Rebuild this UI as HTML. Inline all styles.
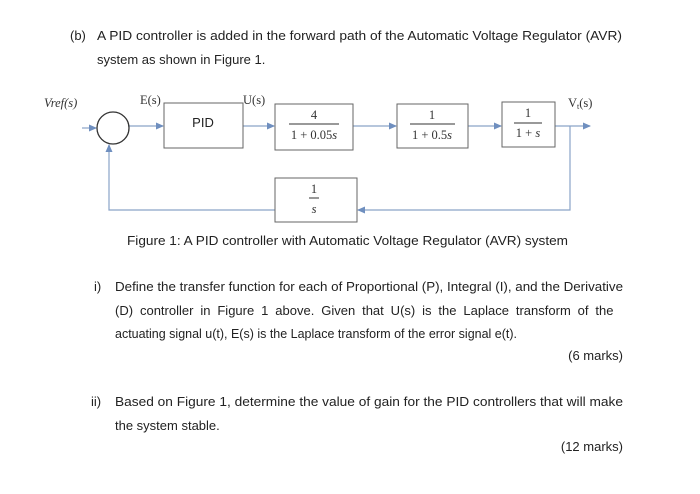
<!DOCTYPE html>
<html><head><meta charset="utf-8"><style>
html,body{margin:0;padding:0;background:#fff;}
svg{display:block;}
.t{font-family:"Liberation Sans",Arial,sans-serif;font-size:13px;fill:#222;}
.m{font-family:"Liberation Serif",serif;font-size:12.5px;fill:#333;}
.i{font-style:italic;}
</style></head><body>
<svg width="700" height="494" viewBox="0 0 700 494" xmlns="http://www.w3.org/2000/svg">
<defs><marker id="a" markerWidth="8" markerHeight="8" refX="7" refY="4" orient="auto" markerUnits="userSpaceOnUse"><path d="M0,0.5 L8,4 L0,7.5 z" fill="#6f8fbf"/></marker></defs>
<rect width="700" height="494" fill="#fff"/>
<text class="t" x="70" y="40">(b)</text>
<text class="t" x="97" y="40" textLength="525" lengthAdjust="spacingAndGlyphs">A PID controller is added in the forward path of the Automatic Voltage Regulator (AVR)</text>
<text class="t" x="97" y="64">system as shown in Figure 1.</text>

<g stroke="#8aa3c8" stroke-width="1.2" fill="none">
<line x1="82" y1="128" x2="96" y2="128" marker-end="url(#a)"/>
<line x1="129" y1="126" x2="163" y2="126" marker-end="url(#a)"/>
<line x1="243" y1="126" x2="274" y2="126" marker-end="url(#a)"/>
<line x1="353" y1="126" x2="396" y2="126" marker-end="url(#a)"/>
<line x1="468" y1="126" x2="501" y2="126" marker-end="url(#a)"/>
<line x1="555" y1="126" x2="590" y2="126" marker-end="url(#a)"/>
<polyline points="570,126 570,210 358,210" marker-end="url(#a)"/>
<polyline points="275,210 109,210 109,145" marker-end="url(#a)"/>
</g>
<circle cx="113" cy="128" r="16" fill="none" stroke="#333" stroke-width="1.3"/>
<g fill="#fff" stroke="#666" stroke-width="1">
<rect x="164" y="103" width="79" height="45"/>
<rect x="275" y="104" width="78" height="46"/>
<rect x="397" y="104" width="71" height="44"/>
<rect x="502" y="102" width="53" height="45"/>
<rect x="275" y="178" width="82" height="44"/>
</g>
<text class="t" x="203" y="127" text-anchor="middle">PID</text>
<text class="m" x="314" y="119" text-anchor="middle">4</text>
<line x1="289" y1="124" x2="339" y2="124" stroke="#333"/>
<text class="m" x="314" y="139" text-anchor="middle">1 + 0.05<tspan class="i">s</tspan></text>
<text class="m" x="432" y="119" text-anchor="middle">1</text>
<line x1="410" y1="124" x2="455" y2="124" stroke="#333"/>
<text class="m" x="432" y="139" text-anchor="middle">1 + 0.5<tspan class="i">s</tspan></text>
<text class="m" x="528" y="117" text-anchor="middle">1</text>
<line x1="514" y1="123" x2="542" y2="123" stroke="#333"/>
<text class="m" x="528" y="137" text-anchor="middle">1 + <tspan class="i">s</tspan></text>
<text class="m" x="314" y="193" text-anchor="middle">1</text>
<line x1="309" y1="198" x2="319" y2="198" stroke="#333"/>
<text class="m i" x="314" y="213" text-anchor="middle">s</text>
<text class="m i" x="44" y="107">Vref(s)</text>
<text class="m" x="140" y="104">E(s)</text>
<text class="m" x="243" y="104">U(s)</text>
<text class="m" x="568" y="107">V<tspan font-size="8" dy="2">t</tspan><tspan dy="-2">(s)</tspan></text>

<text class="t" x="127" y="245" textLength="441" lengthAdjust="spacingAndGlyphs">Figure 1: A PID controller with Automatic Voltage Regulator (AVR) system</text>

<text class="t" x="94" y="291">i)</text>
<text class="t" x="115" y="291" textLength="508" lengthAdjust="spacingAndGlyphs">Define the transfer function for each of Proportional (P), Integral (I), and the Derivative</text>
<text class="t" x="115" y="315" style="word-spacing:3.3px">(D) controller in Figure 1 above. Given that U(s) is the Laplace transform of the</text>
<text class="t" x="115" y="338" textLength="402" lengthAdjust="spacingAndGlyphs">actuating signal u(t), E(s) is the Laplace transform of the error signal e(t).</text>
<text class="t" x="623" y="360" text-anchor="end">(6 marks)</text>
<text class="t" x="91" y="406">ii)</text>
<text class="t" x="115" y="406" textLength="508" lengthAdjust="spacingAndGlyphs">Based on Figure 1, determine the value of gain for the PID controllers that will make</text>
<text class="t" x="115" y="430">the system stable.</text>
<text class="t" x="623" y="451" text-anchor="end">(12 marks)</text>
</svg>
</body></html>
